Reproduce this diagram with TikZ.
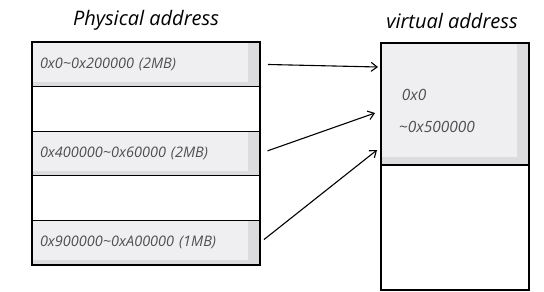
\documentclass[tikz,border=0pt]{standalone}
\usepackage{fontspec}
\setmainfont{Open Sans}
\usetikzlibrary{calc,arrows.meta}
\definecolor{bandgray}{HTML}{EFEFF1}
\definecolor{bandshade}{HTML}{DCDCDE}
\definecolor{inkgray}{HTML}{505050}

\begin{document}
\begin{tikzpicture}[x=1pt, y=-1pt, line width=1.2pt,
  band/.style={draw, text width=212pt, inner xsep=8pt, inner ysep=0pt,
    minimum height=44.6pt, outer sep=0pt, align=left,
    font=\fontsize{14.5}{16}\selectfont\itshape, text=inkgray},
  memband/.style={band, fill=bandgray, path picture={
    \fill[bandshade] ([xshift=-12pt]path picture bounding box.north east)
      rectangle (path picture bounding box.south east);
    \fill[bandshade] ([yshift=5pt]path picture bounding box.south west)
      rectangle (path picture bounding box.south east);}},
  vlabel/.style={font=\fontsize{15.5}{18}\selectfont\itshape, text=inkgray, anchor=west},
  title/.style={font=\fontsize{20}{24}\selectfont\itshape},
  arr/.style={-{Straight Barb[length=6pt,width=9pt]}, line width=1.1pt, shorten <=8pt}]
  \useasboundingbox (0,0) rectangle (544,292);

  % physical memory: five bands, 42..265
  \node[memband, anchor=north west] (p1) at (32,42) {0x0\textasciitilde0x200000 (2MB)};
  \node[band, anchor=north] (g1) at (p1.south) {};
  \node[memband, anchor=north] (p2) at (g1.south) {0x400000\textasciitilde0x60000 (2MB)};
  \node[band, anchor=north] (g2) at (p2.south) {};
  \node[memband, anchor=north] (p3) at (g2.south) {0x900000\textasciitilde0xA00000 (1MB)};
  \node[title] (ptitle) at (146,20) {Physical address};

  % virtual memory
  \node[draw, fill=bandgray, minimum width=148pt, minimum height=122pt, outer sep=0pt,
    anchor=north west, path picture={
      \fill[bandshade] ([xshift=-12pt]path picture bounding box.north east)
        rectangle (path picture bounding box.south east);
      \fill[bandshade] ([yshift=8pt]path picture bounding box.south west)
        rectangle (path picture bounding box.south east);}] (vtop) at (381,43) {};
  \node[draw, minimum width=148pt, minimum height=125pt, outer sep=0pt,
    anchor=north] (vbot) at (vtop.south) {};
  \node[vlabel] (v1) at (398,95) {0x0};
  \node[vlabel] (v2) at (395,127) {\textasciitilde0x500000};
  \node[title] (vtitle) at (452,21) {virtual address};

  % arrow targets on the left side of vtop
  \coordinate (t1) at ($(vtop.north west)+(-3,24)$);
  \coordinate (t2) at ($(vtop.north west)+(-6,70)$);
  \coordinate (t3) at ($(vtop.north west)+(-4,107)$);

  \draw[arr] (p1.east) -- (t1);
  \draw[arr] (p2.east) -- (t2);
  \draw[arr, shorten <=5pt] (p3.east) -- (t3);
\end{tikzpicture}
\end{document}
